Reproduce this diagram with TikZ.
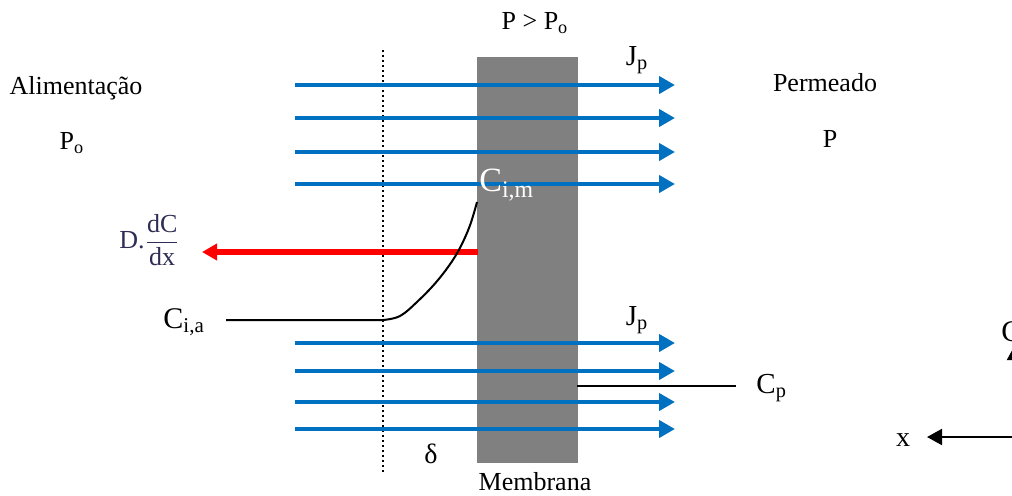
\documentclass[tikz,border=0pt]{standalone}
\usepackage{fontspec}
\setmainfont{Liberation Serif}
\usetikzlibrary{arrows.meta}
\definecolor{flowblue}{RGB}{0,112,192}
\definecolor{memgray}{RGB}{128,128,128}
\definecolor{eqcol}{RGB}{45,45,85}
\tikzset{
  flow/.style={draw=flowblue, line width=2.4pt, -{Triangle[length=8pt,width=8.5pt]}},
  diff/.style={draw=red, line width=3pt, -{Triangle[length=7.5pt,width=8pt]}},
  axis/.style={draw=black, line width=1pt, -{Triangle[length=7.5pt,width=8pt]}},
  thinline/.style={draw=black, line width=1pt},
  lbl/.style={inner sep=0pt, font=\fontsize{13}{15}\selectfont},
  biglbl/.style={inner sep=0pt, font=\fontsize{14.5}{17}\selectfont},
}
\begin{document}
\begin{tikzpicture}[x=0.5pt,y=-0.5pt]
\useasboundingbox (0,0) rectangle (1012,495);
\clip (0,0) rectangle (1012,495);
% membrane
\node[draw=none, fill=memgray, minimum width=50.5pt, minimum height=203pt, inner sep=0pt, anchor=north west] (mem) at (477,57) {};
% dotted boundary layer line
\coordinate (dtop) at (383,50);
\coordinate (dbot) at (383,472);
\draw[line width=1pt, dash pattern=on 1pt off 1.5pt] (dtop) -- (dbot);
% upper flux arrows
\foreach \y [count=\i] in {85,118,152,184}{
  \coordinate (us\i) at (295,\y);
  \coordinate (ue\i) at (675,\y);
  \draw[flow] (us\i) -- (ue\i);
}
% lower flux arrows
\foreach \y [count=\i] in {343,371,402,429}{
  \coordinate (ls\i) at (295,\y);
  \coordinate (le\i) at (675,\y);
  \draw[flow] (ls\i) -- (le\i);
}
% diffusion arrow
\coordinate (rs) at (478,252);
\coordinate (re) at (202,252);
\draw[diff] (rs) -- (re);
% concentration profile
\coordinate (cia) at (226,320);
\coordinate (cb) at (383,320);
\coordinate (cim) at (477,202);
\draw[thinline] (cia) -- (cb) plot[smooth, tension=0.6] coordinates {(383,320) (400,316) (418,301) (438,280) (456,255) (469,228) (477,202)};
% Cp line
\coordinate (cps) at (577,386);
\coordinate (cpe) at (736,386);
\draw[thinline] (cps) -- (cpe);
% axes (partially outside)
\coordinate (orig) at (1015,437);
\coordinate (xend) at (927,437);
\coordinate (cend) at (1015,345);
\draw[axis] (orig) -- (xend);
\draw[axis] (orig) -- (cend);
% labels
\node[lbl] (alim) at (76,88) {Alimentação};
\node[lbl] (po) at (72,143) {P\textsubscript{o}};
\node[lbl] (perm) at (825,83) {Permeado};
\node[lbl] (pr) at (830,139) {P};
\node[lbl] (ppo) at (535,23) {P > P\textsubscript{o}};
\node[biglbl] (jp1) at (637,60) {J\textsubscript{p}};
\node[biglbl] (jp2) at (637,320) {J\textsubscript{p}};
\node[inner sep=0pt, font=\fontsize{15}{18}\selectfont, anchor=west] (cialbl) at (163,322) {C\textsubscript{i,a}};
\node[inner sep=0pt, font=\fontsize{17}{20}\selectfont, text=white, anchor=west] (cimlbl) at (479,185) {C\textsubscript{i,m}};
\node[inner sep=0pt, font=\fontsize{14.5}{17}\selectfont, anchor=west] (cplbl) at (756,388) {C\textsubscript{p}};
\node[inner sep=0pt, font=\fontsize{13}{15}\selectfont, text=eqcol, anchor=west] (dlbl) at (119,240) {D.$\displaystyle\frac{\mbox{dC}}{\mbox{dx}}$};
\node[lbl, font=\fontsize{14}{16}\selectfont] (delta) at (431,454) {δ};
\node[lbl] (memb) at (535,482) {Membrana};
\node[inner sep=0pt, font=\fontsize{14}{16}\selectfont] (xlbl) at (903,440) {x};
\node[inner sep=0pt, font=\fontsize{15}{18}\selectfont, anchor=west] (clbl) at (1001,332) {C};
\end{tikzpicture}
\end{document}
